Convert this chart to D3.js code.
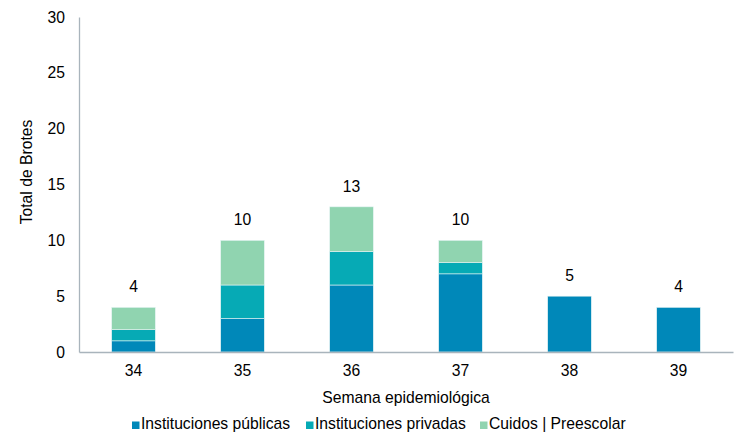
<!DOCTYPE html>
<html>
<head>
<meta charset="utf-8">
<script src="https://cdn.jsdelivr.net/npm/d3@7"></script>
<style>
  body { margin: 0; background: #fff; }
  text { font-family: "Liberation Sans", Arial, sans-serif; fill: #000; }
</style>
</head>
<body>
<div id="chart"></div>
<script>
// semanas y brotes por tipo de institución
const semanas = ["34", "35", "36", "37", "38", "39"];
const publicas = [1, 3, 6, 7, 5, 4];
const privadas = [1, 3, 3, 1, 0, 0];
const cuidos = [2, 4, 4, 2, 0, 0];
const yTicks = [0, 5, 10, 15, 20, 25, 30];
const seriesNames = ["Instituciones públicas", "Instituciones privadas", "Cuidos | Preescolar"];
const colors = ["#0088b9", "#06aab5", "#90d4b0"];

const width = 743, height = 436;
const margin = { top: 17, right: 10, bottom: 84, left: 79 };
const fs = "15.7px";

const svg = d3.select("#chart").append("svg")
  .attr("width", width)
  .attr("height", height);

const rows = semanas.map((s, i) => ({ semana: s, p0: publicas[i], p1: privadas[i], p2: cuidos[i] }));
const stack = d3.stack().keys(["p0", "p1", "p2"])(rows);

const x = d3.scaleBand()
  .domain(semanas)
  .range([margin.left, width - margin.right])
  .paddingInner(0.6)
  .paddingOuter(0.3);

const y = d3.scaleLinear()
  .domain([0, 30])
  .range([height - margin.bottom, margin.top]);

// bars
stack.forEach((layer, k) => {
  svg.append("g")
    .selectAll("rect")
    .data(layer.filter(d => d[1] > d[0]))
    .join("rect")
    .attr("x", d => x(d.data.semana))
    .attr("y", d => y(d[1]))
    .attr("width", x.bandwidth())
    .attr("height", d => y(d[0]) - y(d[1]))
    .attr("fill", colors[k])
    .attr("stroke", "#e6f4f4")
    .attr("stroke-width", 0.6);
});

// axes
const yAxis = svg.append("g")
  .attr("transform", `translate(${margin.left},0)`)
  .call(d3.axisLeft(y).tickValues(yTicks).tickSize(0).tickPadding(14));
yAxis.select(".domain").attr("stroke", "#a9b4bc").attr("stroke-width", 1.3);
yAxis.selectAll("text").style("font-size", fs);

const xAxis = svg.append("g")
  .attr("transform", `translate(0,${y(0)})`)
  .call(d3.axisBottom(x).tickSize(0).tickPadding(13));
xAxis.select(".domain").attr("stroke", "#a9b4bc").attr("stroke-width", 1.3);
xAxis.selectAll("text").style("font-size", fs);

// totals
svg.append("g")
  .selectAll("text")
  .data(rows)
  .join("text")
  .attr("x", d => x(d.semana) + x.bandwidth() / 2)
  .attr("y", d => y(d.p0 + d.p1 + d.p2) - 15)
  .attr("text-anchor", "middle")
  .style("font-size", fs)
  .text(d => d.p0 + d.p1 + d.p2);

// axis titles
svg.append("text")
  .attr("transform", "rotate(-90)")
  .attr("x", -172)
  .attr("y", 32)
  .attr("text-anchor", "middle")
  .style("font-size", fs)
  .text("Total de Brotes");

svg.append("text")
  .attr("x", 406)
  .attr("y", 403)
  .attr("text-anchor", "middle")
  .style("font-size", fs)
  .text("Semana epidemiológica");

// legend
const legendX = [132, 306, 480];
const legend = svg.append("g").attr("transform", "translate(0,429)");
seriesNames.forEach((name, i) => {
  const g = legend.append("g").attr("transform", `translate(${legendX[i]},0)`);
  g.append("rect").attr("x", 0).attr("y", -7.5).attr("width", 7.5).attr("height", 7.5).attr("fill", colors[i]);
  g.append("text").attr("x", 9).attr("y", 0).style("font-size", fs).text(name);
});
</script>
</body>
</html>
